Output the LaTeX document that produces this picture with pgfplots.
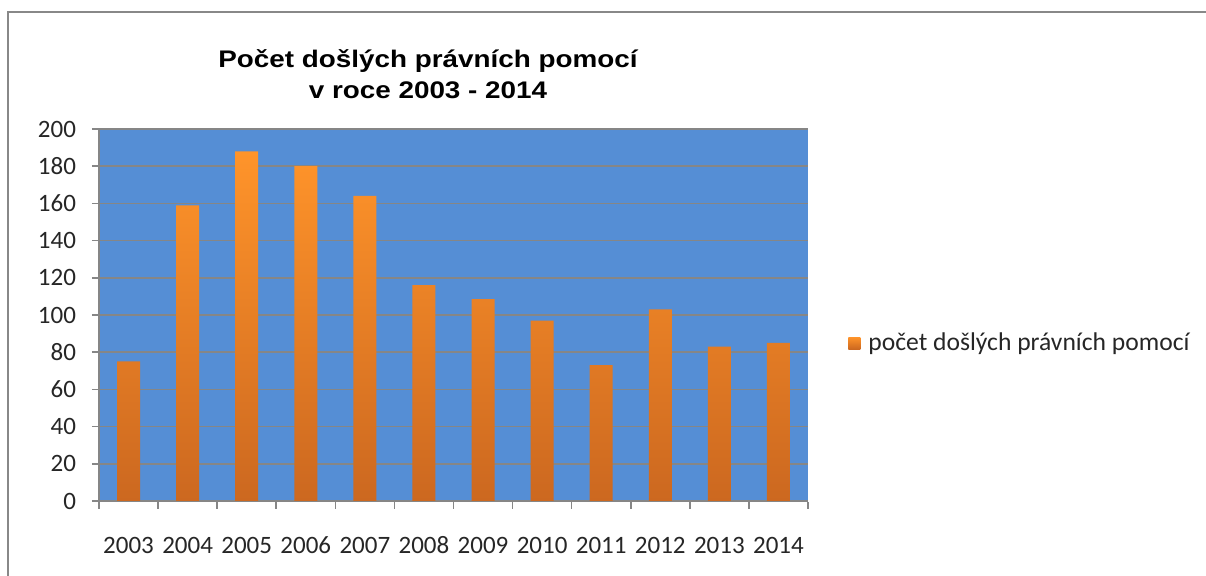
\documentclass[border=0pt]{standalone}
\usepackage{fontspec}
\setmainfont{Carlito}
\newfontfamily\titlefont[FakeStretch=1.16]{Liberation Sans}
\usepackage{pgfplots}
\pgfplotsset{compat=1.18}

\definecolor{plotbg}{RGB}{85,142,213}
\definecolor{bartop}{RGB}{255,148,42}
\definecolor{barmid}{RGB}{251,145,40}
\definecolor{barbot}{RGB}{204,104,32}
\definecolor{gridgray}{RGB}{134,134,134}
\definecolor{framegray}{RGB}{136,136,136}

\begin{document}
\begin{tikzpicture}
% 1 px of the reference = 0.5pt, origin at the top left corner
\useasboundingbox (0,0) rectangle (603pt,-288pt);
\draw[framegray, line width=1pt] (4pt,-300pt) -- (4pt,-6pt) -- (620pt,-6pt);

\node[font=\titlefont\bfseries\fontsize{12}{15.5}\selectfont, align=center]
  at (214pt,-37pt) {Počet došlých právních pomocí\\v roce 2003 - 2014};

\begin{axis}[
  at={(49.5pt,-250.5pt)}, anchor=south west,
  scale only axis, width=354.5pt, height=186pt,
  xmin=-0.5, xmax=11.5, ymin=0, ymax=200,
  axis background/.style={fill=plotbg},
  axis x line*=bottom, axis y line*=left,
  axis line style={gridgray, line width=0.8pt},
  ytick={0,20,...,200},
  ymajorgrids, grid style={gridgray, line width=0.8pt},
  xtick={-0.5,0.5,...,11.5},
  x tick label as interval,
  xticklabels={2003,2004,2005,2006,2007,2008,2009,2010,2011,2012,2013,2014},
  tick align=outside,
  major tick length=3.5pt,
  tick style={gridgray, line width=0.8pt},
  every x tick/.append style={yshift=-0.5pt},
  ticklabel style={font=\fontsize{12.5}{15}\selectfont, text=black!85},
  /pgf/number format/assume math mode=true,
  xticklabel style={anchor=base, yshift=-23pt},
  yticklabel style={xshift=-4.5pt},
  legend style={at={(1,0.4247)}, anchor=west, xshift=17pt, draw=none, fill=none,
    font=\fontsize{12.8}{15}\selectfont, text=black!85, column sep=2pt},
  legend image code/.code={\path[#1] (0pt,-3pt) rectangle (6pt,3pt);},
]
\addplot[ybar, bar width=11.5pt, draw=none,
  top color=bartop, middle color=barmid, bottom color=barbot]
  coordinates {(0,75) (1,159) (2,188) (3,180) (4,164) (5,116)
               (6,108.5) (7,97) (8,73) (9,103) (10,83) (11,85)};
\addlegendentry{počet došlých právních pomocí}
\end{axis}
\end{tikzpicture}
\end{document}
